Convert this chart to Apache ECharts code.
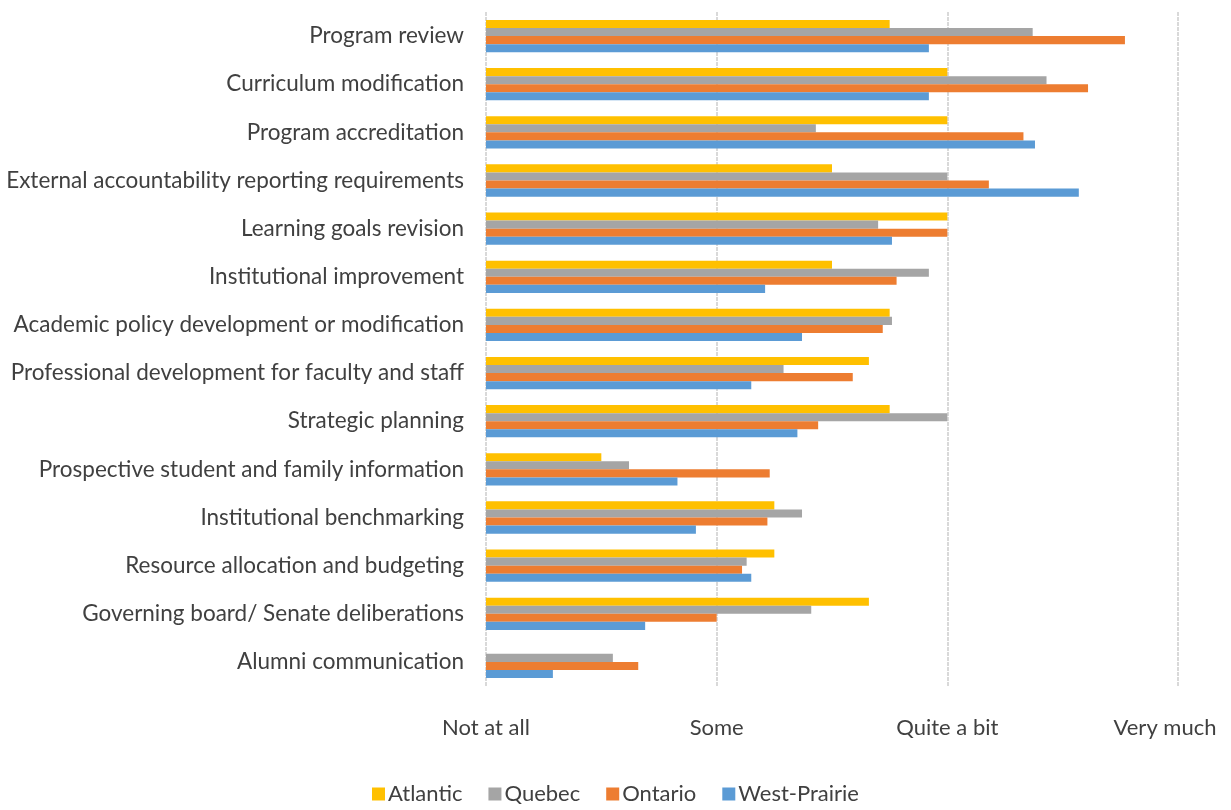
<!DOCTYPE html>
<html>
<head>
<meta charset="utf-8">
<script src="https://cdn.jsdelivr.net/npm/echarts@6/dist/echarts.min.js"></script>
<style>html,body{margin:0;padding:0;background:#fff}#c{width:1231px;height:810px}</style>
</head>
<body>
<div id="c"></div>
<script>
const categories = [
  "Program review",
  "Curriculum modification",
  "Program accreditation",
  "External accountability reporting requirements",
  "Learning goals revision",
  "Institutional improvement",
  "Academic policy development or modification",
  "Professional development for faculty and staff",
  "Strategic planning",
  "Prospective student and family information",
  "Institutional benchmarking",
  "Resource allocation and budgeting",
  "Governing board/ Senate deliberations",
  "Alumni communication"
];
const tickLabels = ["Not at all", "Some", "Quite a bit", "Very much"];
const atlantic    = [2.75, 3.00, 3.00, 2.50, 3.00, 2.50, 2.75, 2.66, 2.75, 1.50, 2.25, 2.25, 2.66, null];
const quebec      = [3.37, 3.43, 2.43, 3.00, 2.70, 2.92, 2.76, 2.29, 3.00, 1.62, 2.37, 2.13, 2.41, 1.55];
const ontario     = [3.77, 3.61, 3.33, 3.18, 3.00, 2.78, 2.72, 2.59, 2.44, 2.23, 2.22, 2.11, 2.00, 1.66];
const westPrairie = [2.92, 2.92, 3.38, 3.57, 2.76, 2.21, 2.37, 2.15, 2.35, 1.83, 1.91, 2.15, 1.69, 1.29];

const FONT = 'Lato, "Open Sans", sans-serif';
const chart = echarts.init(document.getElementById('c'), null, {renderer: 'canvas'});
function mk(name, data, color) {
  return {
    name: name, type: 'bar', data: data,
    barGap: '0%', barCategoryGap: '33%',
    itemStyle: {color: color},
    animation: false
  };
}
chart.setOption({
  animation: false,
  grid: {left: 486, right: 53, top: 12, bottom: 124, containLabel: false},
  legend: {
    bottom: 0, left: 'center',
    itemWidth: 13, itemHeight: 13, itemGap: 26,
    icon: 'rect',
    textStyle: {fontFamily: FONT, fontSize: 22, color: '#404040', padding: [0, 0, 0, -2]},
    data: ['Atlantic', 'Quebec', 'Ontario', 'West-Prairie']
  },
  xAxis: {
    type: 'value', min: 1, max: 4, interval: 1,
    axisLine: {show: false}, axisTick: {show: false},
    axisLabel: {
      fontFamily: FONT, fontSize: 22, color: '#404040', margin: 31,
      formatter: function (v) {
        const i = Math.round(v) - 1;
        return i === 3 ? '{vm|' + tickLabels[i] + '}' : tickLabels[i];
      },
      rich: {vm: {fontFamily: FONT, fontSize: 22, color: '#404040', padding: [0, 26, 0, 0]}}
    },
    splitLine: {show: true, lineStyle: {color: '#d9d9d9', width: 2, type: [4, 1]}}
  },
  yAxis: {
    type: 'category', data: categories, inverse: true,
    axisLine: {show: false}, axisTick: {show: false},
    axisLabel: {fontFamily: FONT, fontSize: 22.5, color: '#404040', margin: 22}
  },
  series: [
    mk('Atlantic', atlantic, '#FFC000'),
    mk('Quebec', quebec, '#A5A5A5'),
    mk('Ontario', ontario, '#ED7D31'),
    mk('West-Prairie', westPrairie, '#5B9BD5')
  ]
});
</script>
</body>
</html>
